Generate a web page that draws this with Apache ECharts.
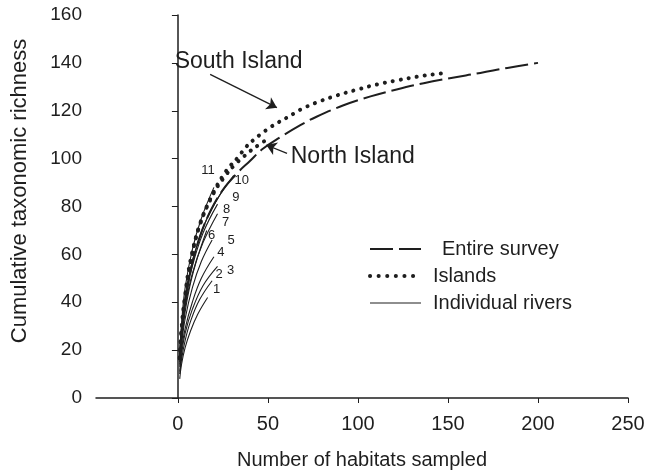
<!DOCTYPE html>
<html>
<head>
<meta charset="utf-8">
<script src="https://cdn.jsdelivr.net/npm/echarts@6/dist/echarts.min.js"></script>
<style>
html, body { margin: 0; padding: 0; background: #fff; }
#chart { width: 658px; height: 476px; }
</style>
</head>
<body>
<div id="chart"></div>
<script>
// values
var entireSurvey = [[1,16],[2,27],[4,40],[7,53],[12,67],[18,78],[25,87],[33,94],[40,99],[47,104],
  [57,109],[68,114],[77,117.5],[92,122.3],[107,126],[121.5,128.9],[136.5,131.5],[151,133.6],
  [168,135.8],[183,137.9],[200,140]];
var southIsland = [[1,17],[2,29],[4,43],[7,57.5],[12.4,73],[19.8,86],[25.3,93.2],[29.1,97],
  [33.7,100.8],[37.4,104.5],[42,107.8],[46.7,110.6],[50.9,112.9],[55.9,115.2],[60.5,117.1],
  [65.2,119.2],[70,121.2],[79,124],[88.3,126.4],[99.4,128.8],[110.6,131],[121.7,132.7],
  [132.8,134.2],[142,135.2],[149.4,135.8]];
var northIsland = [[1,16.5],[2,28],[4,42],[7,56.5],[12,72],[19.8,85.5],[26,92.5],[31.8,97.6],
  [36.5,100.8],[40.2,103.2],[44.8,105.7],[49,107.8]];
var rivers = [
  [[1,8],[2,14],[4,21],[7,28],[11,35],[16.5,42]],
  [[1,10],[2,16],[4,24],[7,32],[12,41],[19,49]],
  [[1,11],[2,18],[4,27],[8,37],[14,47],[22,55]],
  [[1,13],[2,20],[4,29],[8,40],[13,50],[20,59]],
  [[1,14],[2,22],[4,33],[8,46],[13,57],[19,66]],
  [[1,15],[2,24],[4,36],[7,48],[11,59],[16,70]],
  [[1,16],[2,26],[4,38],[8,52],[14,65],[22,77]],
  [[1,16],[2,27],[4,40],[8,55],[14,69],[22,81]],
  [[1,17],[2,28],[4,42],[8,57],[15,73],[25,87]],
  [[1,17],[2,29],[5,46],[10,62],[18,78],[31,93]],
  [[1,18],[2,31],[4,46],[8,62],[13,75],[20,88]]
];
var riverNames = ['1','2','3','4','5','6','7','8','9','10','11'];
var legendNames = ['Entire survey', 'Islands', 'Individual rivers'];
var yTicks = [0, 20, 40, 60, 80, 100, 120, 140, 160];

// annotation arrows (data units)
var southArrow = [[17.9,135.2],[55,121.3]];
var northArrow = [[60.6,102.2],[49.1,105.7]];
var southText = [33.7,140.4];
var northText = [62.4,100.7];

// pixel offsets of river numbers from the river ends
var riverLabelOffset = [[9,-8],[7,-6],[13,4],[7,-4],[19,0],[5,5],[8,9],[9,5],[13,8],[8,5],[-6,-17]];

var FONT = 'Liberation Sans, Arial, sans-serif';
var INK = '#1e1e1e';
var dashStyle = { color: INK, width: 2, type: [23, 6] };
var dotStyle = { color: INK, width: 4, type: [0.1, 8], cap: 'round' };
var riverStyle = { color: INK, width: 1.1 };

var dom = document.getElementById('chart');
var myChart = echarts.init(dom, null, { renderer: 'canvas' });

var series = [];
rivers.forEach(function (r, i) {
  series.push({
    name: legendNames[2],
    type: 'line',
    data: r,
    smooth: 0.4,
    showSymbol: false,
    symbol: 'none',
    itemStyle: { color: INK },
    lineStyle: riverStyle,
    markPoint: {
      symbol: 'circle',
      symbolSize: 1,
      itemStyle: { color: 'rgba(0,0,0,0)' },
      label: {
        show: true,
        position: 'inside',
        offset: riverLabelOffset[i],
        formatter: riverNames[i],
        fontFamily: FONT,
        fontSize: 13,
        color: INK
      },
      data: [{ coord: r[r.length - 1] }]
    }
  });
});

series.push({
  name: legendNames[0],
  type: 'line',
  data: entireSurvey,
  smooth: 0.4,
  showSymbol: false,
  symbol: 'none',
  itemStyle: { color: INK },
  lineStyle: dashStyle
});

[southIsland, northIsland].forEach(function (d, k) {
  series.push({
    name: legendNames[1],
    type: 'line',
    data: d,
    smooth: 0.4,
    showSymbol: false,
    symbol: 'none',
    itemStyle: { color: INK },
    lineStyle: dotStyle,
    markLine: {
      silent: true,
      symbol: ['none', 'arrow'],
      symbolSize: 10,
      lineStyle: { color: INK, width: 1.3, type: 'solid' },
      label: { show: false },
      data: [[{ coord: k === 0 ? southArrow[0] : northArrow[0] },
              { coord: k === 0 ? southArrow[1] : northArrow[1] }]]
    },
    markPoint: {
      symbol: 'circle',
      symbolSize: 1,
      itemStyle: { color: 'rgba(0,0,0,0)' },
      label: {
        show: true,
        position: k === 0 ? 'inside' : 'right',
        distance: 0,
        formatter: k === 0 ? 'South Island' : 'North Island',
        fontFamily: FONT,
        fontSize: 23,
        color: INK
      },
      data: [{ coord: k === 0 ? southText : northText }]
    }
  });
});

var option = {
  animation: false,
  backgroundColor: '#fff',
  grid: { left: 96, right: 30, top: 15, bottom: 78 },
  xAxis: {
    type: 'value',
    min: -45.5,
    max: 250,
    splitNumber: 6,
    splitLine: { show: false },
    axisLine: { lineStyle: { color: INK, width: 1.5 } },
    axisTick: { show: true, inside: false, length: 5, lineStyle: { color: INK, width: 1 } },
    axisLabel: { showMinLabel: false, margin: 16, fontFamily: FONT, fontSize: 20, color: INK }
  },
  yAxis: {
    type: 'value',
    min: yTicks[0],
    max: yTicks[yTicks.length - 1],
    interval: 20,
    splitLine: { show: false },
    axisLine: { show: true, lineStyle: { color: INK, width: 1.5 } },
    axisTick: { show: true, length: 6, lineStyle: { color: INK, width: 1 } },
    axisLabel: { margin: 14, fontFamily: FONT, fontSize: 19, color: INK }
  },
  legend: {
    orient: 'vertical',
    left: 368,
    top: 239,
    padding: 0,
    itemGap: 7,
    itemWidth: 51,
    itemHeight: 14,
    selectedMode: false,
    itemStyle: { color: 'rgba(0,0,0,0)', borderWidth: 0, opacity: 0 },
    textStyle: { fontFamily: FONT, fontSize: 20, color: INK, padding: [0, 0, 0, 7] },
    data: [
      { name: legendNames[0], lineStyle: dashStyle, textStyle: { padding: [0, 0, 0, 16] } },
      { name: legendNames[1], lineStyle: { color: INK, width: 4, type: [0.1, 8.5], cap: 'round' } },
      { name: legendNames[2], lineStyle: riverStyle }
    ]
  },
  graphic: [
    {
      type: 'text',
      x: 20, y: 191,
      rotation: Math.PI / 2,
      style: {
        text: 'Cumulative taxonomic richness',
        font: '22px ' + FONT,
        fill: INK,
        align: 'center',
        verticalAlign: 'middle'
      }
    },
    {
      type: 'text',
      x: 362, y: 460,
      style: {
        text: 'Number of habitats sampled',
        font: '20px ' + FONT,
        fill: INK,
        align: 'center',
        verticalAlign: 'middle'
      }
    }
  ],
  series: series
};

if (option && typeof option === 'object') {
  myChart.setOption(option);
}
window.addEventListener('resize', myChart.resize);
</script>
</body>
</html>
